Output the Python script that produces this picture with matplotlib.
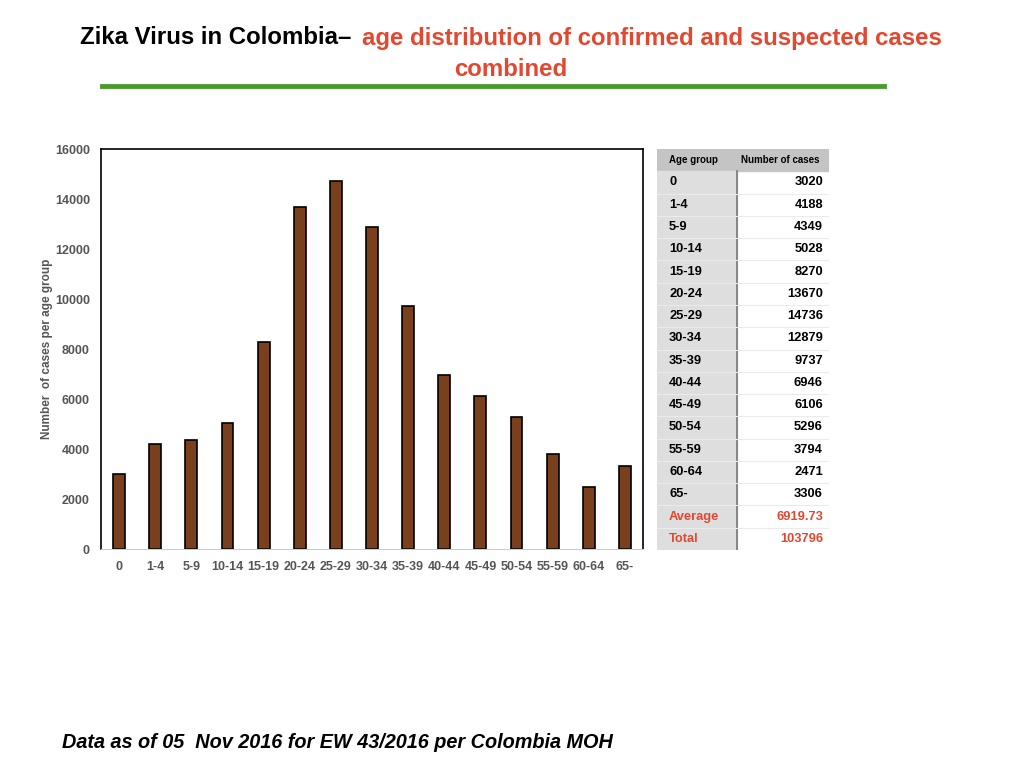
import matplotlib.pyplot as plt
from matplotlib.patches import Rectangle

plt.rcParams['font.family'] = ['Liberation Sans', 'DejaVu Sans']

age_groups = ['0', '1-4', '5-9', '10-14', '15-19', '20-24', '25-29', '30-34',
              '35-39', '40-44', '45-49', '50-54', '55-59', '60-64', '65-']
cases = [3020, 4188, 4349, 5028, 8270, 13670, 14736, 12879,
         9737, 6946, 6106, 5296, 3794, 2471, 3306]
average = '6919.73'
total = '103796'

red = '#e2472f'
gray_txt = '#555555'

fig = plt.figure(figsize=(10.24, 7.68), dpi=100)
W, H = 1024, 768

# bar chart
ax = fig.add_axes([101 / W, 1 - 549 / H, 542 / W, 400 / H])
ax.bar(range(len(cases)), cases, width=0.33, color='#7a3f1c',
       edgecolor='black', linewidth=1.2)
ax.set_xlim(-0.5, len(cases) - 0.5)
ax.set_ylim(0, 16000)
ax.set_yticks(range(0, 16001, 2000))
ax.set_xticks(range(len(cases)))
ax.set_xticklabels(age_groups)
ax.tick_params(length=0, labelsize=9, labelcolor=gray_txt)
ax.tick_params(axis='x', pad=9)
ax.tick_params(axis='y', pad=8)
for lab in ax.get_xticklabels() + ax.get_yticklabels():
    lab.set_fontweight('bold')
ax.set_ylabel('Number  of cases per age group', fontsize=8.5, color=gray_txt,
              fontweight='bold', labelpad=1)
for s in ['top', 'left', 'right']:
    ax.spines[s].set_linewidth(1.2)
ax.spines['bottom'].set_color('#cccccc')

# table on the right
tx = fig.add_axes([657 / W, 1 - 550 / H, 172 / W, 401 / H])
tx.set_xlim(0, 172)
nrows = len(cases) + 3
tx.set_ylim(nrows, 0)
tx.axis('off')
col1 = 80
tx.add_patch(Rectangle((0, 0), 172, 1, color='#c4c4c4'))
tx.add_patch(Rectangle((0, 1), col1, nrows - 1, color='#dedede'))
tx.plot([col1, col1], [1, nrows], color='#777777', lw=1.2)
for r in range(2, nrows):
    tx.plot([0, 172], [r, r], color='#ebebeb', lw=0.8)
tx.text(12, 0.5, 'Age group', fontsize=7, fontweight='bold', va='center')
tx.text(col1 + 4, 0.5, 'Number of cases', fontsize=7, fontweight='bold', va='center')
rows = list(zip(age_groups, [str(c) for c in cases]))
for i, (g, c) in enumerate(rows):
    y = i + 1.5
    tx.text(12, y, g, fontsize=9.3, fontweight='bold', va='center')
    tx.text(166, y, c, fontsize=9.3, fontweight='bold', va='center', ha='right')
for i, (g, c) in enumerate([('Average', average), ('Total', total)]):
    y = len(rows) + i + 1.5
    tx.text(12, y, g, fontsize=9.3, fontweight='bold', va='center', color=red)
    tx.text(166, y, c, fontsize=9.3, fontweight='bold', va='center', ha='right', color=red)

# title
fig.text(80 / W, 1 - 38 / H, 'Zika Virus in Colombia\u2013', fontsize=17.3,
         fontweight='bold', va='center', ha='left')
fig.text(362 / W, 1 - 38 / H, 'age distribution of confirmed and suspected cases',
         fontsize=17.3, fontweight='bold', va='center', ha='left', color=red)
fig.text(511 / W, 1 - 70 / H, 'combined', fontsize=17.3, fontweight='bold',
         va='center', ha='center', color=red)
fig.add_artist(plt.Line2D([102 / W, 884 / W], [1 - 86 / H, 1 - 86 / H],
                          color='#4c9a2f', lw=3.5))

fig.text(62 / W, 1 - 743 / H, 'Data as of 05  Nov 2016 for EW 43/2016 per Colombia MOH',
         fontsize=14.3, fontweight='bold', style='italic', va='center', ha='left')

fig.savefig('out.png', dpi=100)
